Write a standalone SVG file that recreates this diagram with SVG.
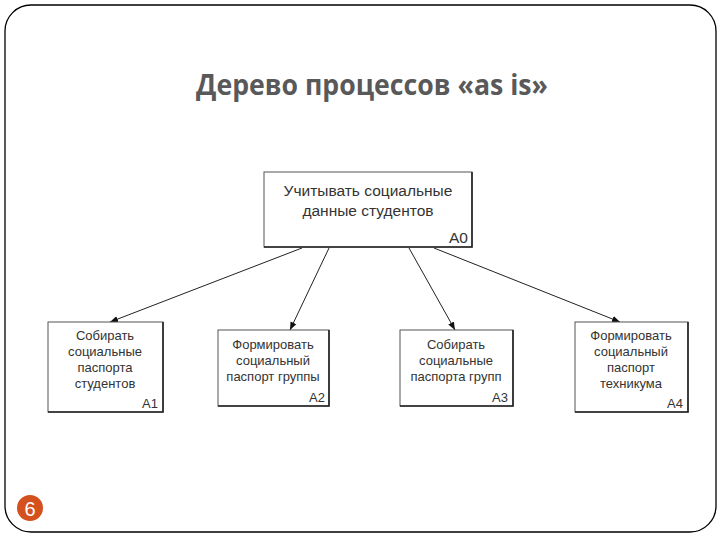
<svg xmlns="http://www.w3.org/2000/svg" width="720" height="540" viewBox="0 0 720 540">
<style>
.frame{fill:#fff;stroke:#000;stroke-width:1.3}
.box{fill:#fff;stroke:#555;stroke-width:1}
.sh{fill:none;stroke:#222;stroke-width:1.6}
.t{font-family:"Liberation Sans",Arial,sans-serif;font-size:13px;fill:#333;text-anchor:middle}
.id{font-family:"Liberation Sans",Arial,sans-serif;font-size:13px;fill:#333;text-anchor:end}
.big{font-size:15.5px}
.title{font-family:"Open Sans","Liberation Sans",sans-serif;font-weight:bold;font-size:28px;fill:#595959}
.c{fill:none;stroke:#222;stroke-width:1;marker-end:url(#ah)}
</style>
<defs>
<marker id="ah" viewBox="0 0 10 10" refX="10" refY="5" markerWidth="8" markerHeight="8" orient="auto" markerUnits="userSpaceOnUse">
<path d="M0,1 L10,5 L0,9 Z" fill="#111"/>
</marker>
</defs>
<rect width="720" height="540" fill="#fff"/>
<rect class="frame" x="5" y="5" width="711" height="527" rx="26" ry="26"/>
<text class="title" x="196" y="95" textLength="352" lengthAdjust="spacingAndGlyphs">Дерево процессов «as is»</text>
<g id="connectors">
<line class="c" x1="302" y1="248" x2="110" y2="322"/>
<line class="c" x1="329" y1="248" x2="290" y2="330"/>
<line class="c" x1="409" y1="248" x2="455" y2="330"/>
<line class="c" x1="434" y1="248" x2="620" y2="322"/>
</g>
<g id="A0">
<rect class="box" x="264" y="172" width="208" height="75"/>
<polyline class="sh" points="472,172 472,247 264,247"/>
<text class="t big" x="368" y="196">Учитывать социальные</text>
<text class="t big" x="368" y="216">данные студентов</text>
<text class="id big" x="468" y="243">A0</text>
</g>
<g id="A1">
<rect class="box" x="48" y="322" width="115" height="90"/>
<polyline class="sh" points="163,322 163,412 48,412"/>
<text class="t" x="105" y="340">Собирать</text>
<text class="t" x="105" y="356">социальные</text>
<text class="t" x="105" y="372">паспорта</text>
<text class="t" x="105" y="388">студентов</text>
<text class="id" x="158" y="408">A1</text>
</g>
<g id="A2">
<rect class="box" x="218" y="330" width="111" height="76"/>
<polyline class="sh" points="329,330 329,406 218,406"/>
<text class="t" x="273" y="349">Формировать</text>
<text class="t" x="273" y="365">социальный</text>
<text class="t" x="273" y="381">паспорт группы</text>
<text class="id" x="325" y="402">A2</text>
</g>
<g id="A3">
<rect class="box" x="400" y="330" width="113" height="76"/>
<polyline class="sh" points="513,330 513,406 400,406"/>
<text class="t" x="456" y="349">Собирать</text>
<text class="t" x="456" y="365">социальные</text>
<text class="t" x="456" y="381">паспорта групп</text>
<text class="id" x="508" y="402">A3</text>
</g>
<g id="A4">
<rect class="box" x="575" y="322" width="113" height="90"/>
<polyline class="sh" points="688,322 688,412 575,412"/>
<text class="t" x="631" y="340">Формировать</text>
<text class="t" x="631" y="356">социальный</text>
<text class="t" x="631" y="372">паспорт</text>
<text class="t" x="631" y="388">техникума</text>
<text class="id" x="683" y="408">A4</text>
</g>
<g id="page">
<circle cx="30" cy="508" r="13" fill="#d4501c"/>
<text x="30" y="516" font-family="Liberation Sans,Arial,sans-serif" font-size="20" fill="#fff" text-anchor="middle">6</text>
</g>
</svg>
